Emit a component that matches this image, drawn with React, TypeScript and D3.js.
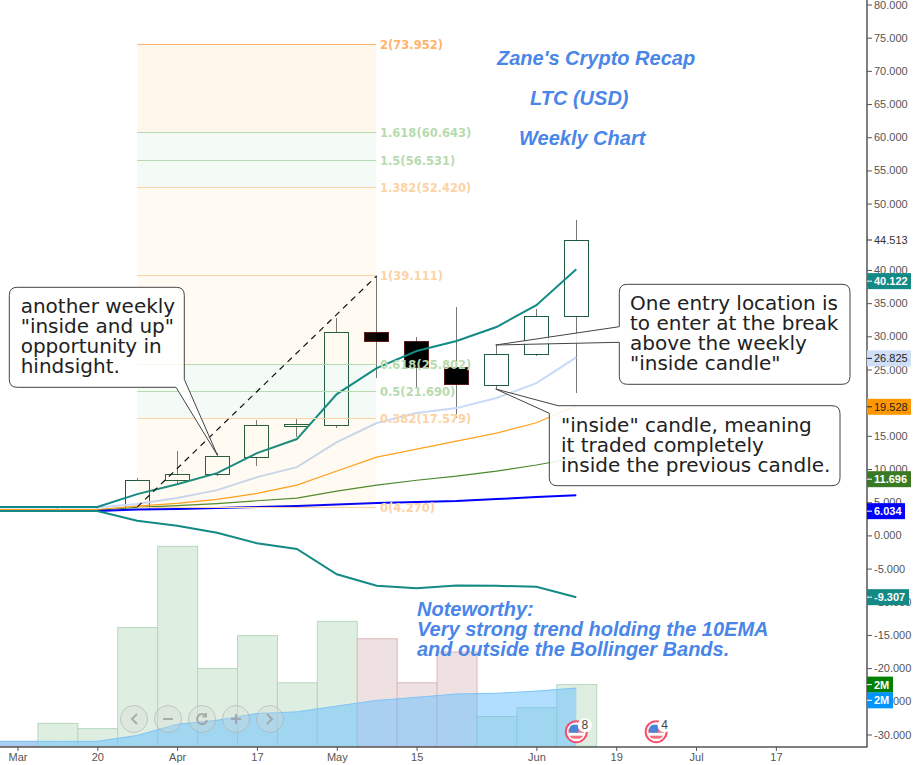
import React, { useEffect, useRef } from 'react';
import * as d3 from 'd3';

// Weekly candles, the index is the week counted from the "Mar" tick
const candleWeeks = [0, 1, 2, 3, 4, 5, 6, 7, 8, 9, 10, 11, 12, 13, 14];
const opens = [3.8, 3.85, 3.9, 3.97, 8.28, 9.18, 11.86, 16.5, 16.69, 30.6, 29.25, 25.4, 22.6, 27.3, 33.0];
const highs = [4.0, 4.4, 4.1, 8.7, 12.7, 12.45, 17.4, 17.55, 32.8, 39.11, 29.9, 34.35, 28.65, 34.1, 47.5];
const lows = [3.7, 3.7, 3.8, 3.9, 7.6, 8.95, 10.5, 14.8, 16.2, 23.75, 22.25, 17.65, 22.05, 27.05, 21.5];
const closes = [3.85, 3.9, 3.97, 8.35, 9.2, 11.92, 16.58, 16.75, 30.6, 29.25, 25.4, 22.75, 27.3, 33.0, 44.47];

// Moving averages and the lower band
const lineWeeks = [-1, 0, 1, 2, 3, 4, 5, 6, 7, 8, 9, 10, 11, 12, 13, 14];
const ema10 = [4.27, 4.27, 4.27, 4.27, 6.22, 7.72, 9.38, 12.4, 14.52, 21.3, 25.2, 27.78, 29.3, 31.4, 34.7, 40.122];
const ema20 = [4.2, 4.2, 4.2, 4.2, 4.72, 5.62, 6.82, 8.78, 10.28, 14.05, 16.93, 18.43, 19.18, 20.7, 22.95, 26.825];
const ema50 = [3.9, 3.9, 3.9, 3.9, 4.42, 4.82, 5.42, 6.33, 7.57, 9.7, 11.8, 13.0, 14.2, 15.42, 16.97, 19.528];
const ema100 = [3.8, 3.8, 3.8, 3.8, 4.22, 4.49, 4.79, 5.21, 5.62, 6.67, 7.57, 8.32, 8.93, 9.68, 10.6, 11.696];
const ema200 = [3.67, 3.67, 3.67, 3.67, 3.89, 3.97, 4.12, 4.27, 4.42, 4.64, 4.87, 5.02, 5.17, 5.47, 5.77, 6.034];
const lowerBand = [3.67, 3.67, 3.67, 3.67, 2.21, 1.46, 0.41, -1.19, -2.04, -5.85, -7.6, -7.95, -7.56, -7.6, -7.75, -9.307];

// Volume in millions
const volumeWeeks = [0, 1, 2, 3, 4, 5, 6, 7, 8, 9, 10, 11, 12, 13, 14];
const volumes = [0.16, 0.74, 0.57, 3.83, 6.45, 2.51, 3.57, 2.05, 4.03, 3.47, 2.05, 3.04, 0.96, 1.25, 1.99];
const volumeUp = [false, true, true, true, true, true, true, true, true, false, false, false, true, true, true];
const volumeMa = [0.16, 0.16, 0.16, 0.16, 0.35, 0.71, 0.84, 1.06, 1.11, 1.3, 1.48, 1.58, 1.69, 1.71, 1.78, 1.88];

// Fibonacci extension
const fibRatios = ['0', '0.382', '0.5', '0.618', '1', '1.382', '1.5', '1.618', '2'];
const fibPrices = [4.27, 17.579, 21.69, 25.802, 39.111, 52.42, 56.531, 60.643, 73.952];

// Axis ticks
const priceTicks = [80, 75, 70, 65, 60, 55, 50, 45, 40, 35, 30, 25, 20, 15, 10, 5, 0, -5, -10, -15, -20, -25, -30];
const timeTickWeeks = [0, 2, 4, 6, 8, 10, 13, 15, 17, 19];
const timeTickLabels = ['Mar', '20', 'Apr', '17', 'May', '15', 'Jun', '19', 'Jul', '17'];

const WIDTH = 914;
const HEIGHT = 765;
const AXIS_X = 867;
const AXIS_Y = 747;
const CANDLE_W = 24;

const BLUE_TEXT = '#4a86e8';
const ORANGE_FILL = '#ff9800';
const GREEN_FILL = '#4caf50';

const x = d3.scaleLinear().domain([2, 14]).range([97.3, 576.3]);
const y = d3.scaleLinear().domain([0, 80]).range([535.4, 4.5]);
const vol = d3.scaleLinear().domain([0, 1]).range([746.3, 715.3]);

const step = x(1) - x(0);
const crisp = (v: number) => Math.round(v) + 0.5;
const crispDown = (v: number) => Math.floor(v) + 0.5;

const linePath = (vals: number[]) =>
  d3.line<number>().x((_, i) => x(lineWeeks[i])).y(d => y(d))(vals) || '';

const maStyles = [
  { vals: ema100, color: '#4a8a2e', w: 1.1 },
  { vals: ema50, color: '#ffa01e', w: 1.2 },
  { vals: ema20, color: '#c9d9f7', w: 2 },
  { vals: ema200, color: '#0000ff', w: 2 },
  { vals: ema10, color: '#138a85', w: 2 },
  { vals: lowerBand, color: '#138a85', w: 2 },
];

// value label on the price axis: nudge is the collision shift the chart applied
const priceTags = [
  { text: '40.122', value: 40.122, nudge: 12, bg: '#138a85', fg: '#fff', w: 44, bold: true },
  { text: '26.825', value: 26.825, nudge: 1, bg: '#cfdff8', fg: '#222', w: 44, bold: false },
  { text: '19.528', value: 19.528, nudge: 1, bg: '#ff9800', fg: '#222', w: 44, bold: false },
  { text: '11.696', value: 11.696, nudge: 21.4, bg: '#3a7a22', fg: '#fff', w: 44, bold: true },
  { text: '6.034', value: 6.034, nudge: 15.8, bg: '#0000ff', fg: '#fff', w: 38, bold: true },
  { text: '-9.307', value: -9.307, nudge: 0, bg: '#138a85', fg: '#fff', w: 42, bold: true },
];

const callouts = [
  {
    box: [9.3, 287.3, 184.3, 387.3],
    tail: [[176, 387.3], [217.3, 455], [184.3, 379.3]],
    side: 'bottom-right',
    textX: 20.7,
    baseline: 313,
    lines: ['another weekly', '"inside and up"', 'opportunity in', 'hindsight.'],
  },
  {
    box: [619.3, 284.3, 850, 384.3],
    tail: [[619.3, 342.3], [495.7, 345], [619.3, 326.7]],
    side: 'left',
    textX: 630,
    baseline: 310,
    lines: ['One entry location is', 'to enter at the break', 'above the weekly', '"inside candle"'],
  },
  {
    box: [549.3, 405.7, 840, 485.7],
    tail: [[549.3, 413.3], [495.7, 389], [558, 405.7]],
    side: 'top-left',
    textX: 561,
    baseline: 431.7,
    lines: ['"inside" candle, meaning', 'it traded completely', 'inside the previous candle.'],
  },
];

// Rounded box with the pointer spliced into the outline
function calloutPath(c: typeof callouts[number]) {
  const [x0, y0, x1, y1] = c.box;
  const r = 8;
  const [a, b, e] = c.tail;
  const tail = `L${a[0]},${a[1]}L${b[0]},${b[1]}L${e[0]},${e[1]}`;
  let d = `M${x0 + r},${y0}`;
  if (c.side === 'top-left') d = `M${e[0]},${e[1]}`;
  d += `L${x1 - r},${y0}Q${x1},${y0} ${x1},${y0 + r}`;
  if (c.side === 'bottom-right') {
    d += `L${e[0]},${e[1]}L${b[0]},${b[1]}L${a[0]},${a[1]}`;
  } else {
    d += `L${x1},${y1 - r}Q${x1},${y1} ${x1 - r},${y1}`;
  }
  d += `L${x0 + r},${y1}Q${x0},${y1} ${x0},${y1 - r}`;
  if (c.side === 'left') d += tail;
  if (c.side === 'top-left') {
    d += `L${a[0]},${a[1]}L${b[0]},${b[1]}Z`;
    return d;
  }
  d += `L${x0},${y0 + r}Q${x0},${y0} ${x0 + r},${y0}Z`;
  return d;
}

const controlXs = [134, 168, 202, 236, 270];
const controlGlyphs = ['M3,-5L-2,0L3,5', 'M-5,0L5,0', 'M4,-3A5,5 0 1 0 5,1M4,-6L4,-2.5L0.5,-2.5', 'M-5,0L5,0M0,-5L0,5', 'M-3,-5L2,0L-3,5'];

function EventFlag({ week, count }: { week: number; count: string }) {
  const cx = x(week);
  const cy = 731.7;
  return (
    <g transform={`translate(${cx},${cy})`}>
      <circle r={10.5} fill="#fff" stroke="#f4506e" strokeWidth={2} />
      <clipPath id={`flag${week}`}>
        <circle r={8} />
      </clipPath>
      <g clipPath={`url(#flag${week})`}>
        <rect x={-9} y={-3} width={18} height={4} fill="#f4707f" />
        <rect x={-9} y={4} width={18} height={3} fill="#f4707f" />
        <rect x={-7} y={-7} width={9} height={8} fill="#4a86d8" />
      </g>
      <circle cx={8.5} cy={-6.5} r={7} fill="#fff" />
      <text x={8.5} y={-2.5} textAnchor="middle" fontSize={12} fontFamily="'Liberation Sans', Arial" fill="#444">{count}</text>
    </g>
  );
}

export default function App() {
  const priceAxisRef = useRef<SVGGElement>(null);
  const timeAxisRef = useRef<SVGGElement>(null);

  useEffect(() => {
    const priceAxis = d3.axisRight(y)
      .tickValues(priceTicks)
      .tickFormat(d => (d as number).toFixed(3))
      .tickSize(5)
      .tickPadding(2);
    const pa = d3.select(priceAxisRef.current as SVGGElement).call(priceAxis as any);
    pa.select('.domain').remove();
    pa.selectAll('text').attr('fill', '#555').attr('font-size', 11).attr('font-family', "'Liberation Sans', Arial");
    pa.selectAll('line').attr('stroke', '#555');

    const timeAxis = d3.axisBottom(x)
      .tickValues(timeTickWeeks)
      .tickFormat((_, i) => timeTickLabels[i])
      .tickSize(4)
      .tickPadding(2);
    const ta = d3.select(timeAxisRef.current as SVGGElement).call(timeAxis as any);
    ta.select('.domain').remove();
    ta.selectAll('text').attr('fill', '#555').attr('font-size', 11).attr('font-family', "'Liberation Sans', Arial");
    ta.selectAll('line').attr('stroke', '#555');
  }, []);

  const volumeArea = d3.area<number>()
    .x((_, i) => x(lineWeeks[i]))
    .y0(vol(0))
    .y1(d => vol(d))(volumeMa) || '';
  const volumeLine = d3.line<number>()
    .x((_, i) => x(lineWeeks[i]))
    .y(d => vol(d))(volumeMa) || '';

  const fibLeft = x(3);
  const fibRight = x(9) - 0.5;

  return (
    <svg width={WIDTH} height={HEIGHT} style={{ position: 'absolute', left: 0, top: 0, display: 'block' }}>
      <defs>
        <clipPath id="plot">
          <rect x={0} y={0} width={AXIS_X} height={AXIS_Y} />
        </clipPath>
      </defs>
      <rect width={WIDTH} height={HEIGHT} fill="#fff" />

      <g clipPath="url(#plot)">
        {/* volume */}
        {volumeWeeks.map((w, i) => (
          <rect
            key={w}
            x={x(w) - step / 2 + 0.5}
            y={vol(volumes[i])}
            width={step}
            height={vol(0) - vol(volumes[i])}
            fill={volumeUp[i] ? '#deeee0' : '#efe1e2'}
            stroke={volumeUp[i] ? '#b5d8bd' : '#dcb8ba'}
            strokeWidth={1}
          />
        ))}
        <path d={volumeArea} fill="#64beff" fillOpacity={0.5} />
        <path d={volumeLine} fill="none" stroke="#7cc4f8" strokeWidth={1} />

        {/* chart zoom buttons */}
        {controlXs.map((cx, i) => (
          <g key={cx} transform={`translate(${cx},719)`}>
            <circle r={13.5} fill="#d8d8d8" fillOpacity={0.3} stroke="#aaa" strokeOpacity={0.55} strokeWidth={1} />
            <path d={controlGlyphs[i]} fill="none" stroke="#999" strokeOpacity={0.75} strokeWidth={2} />
          </g>
        ))}

        {/* candles */}
        {candleWeeks.map((w, i) => {
          const up = closes[i] >= opens[i];
          const cx = crisp(x(w) - 0.5);
          const top = crisp(y(Math.max(opens[i], closes[i])));
          const bottom = crisp(y(Math.min(opens[i], closes[i])));
          return (
            <g key={w} shapeRendering="crispEdges">
              <line x1={cx} x2={cx} y1={y(highs[i])} y2={y(lows[i])} stroke="#777" />
              <rect
                x={cx - CANDLE_W / 2}
                y={top}
                width={CANDLE_W}
                height={Math.max(bottom - top, 1)}
                fill={up ? '#fff' : '#000'}
                stroke={up ? '#1f5c3f' : '#5a1a1a'}
              />
            </g>
          );
        })}

        {/* moving averages */}
        {maStyles.map((s, i) => (
          <path key={i} d={linePath(s.vals)} fill="none" stroke={s.color} strokeWidth={s.w} />
        ))}

        {/* fibonacci bands sit over the candles */}
        {fibPrices.slice(1).map((p, i) => {
          const green = i === 1 || i === 2 || i === 5 || i === 6;
          const top = i === 7;
          return (
            <rect
              key={p}
              x={fibLeft}
              y={y(p)}
              width={fibRight - fibLeft}
              height={y(fibPrices[i]) - y(p)}
              fill={green ? GREEN_FILL : ORANGE_FILL}
              fillOpacity={top ? 0.08 : green ? 0.06 : 0.05}
            />
          );
        })}
        {fibPrices.map((p, i) => {
          const green = fibRatios[i] === '0.5' || fibRatios[i] === '0.618' || fibRatios[i] === '1.5' || fibRatios[i] === '1.618';
          const color = fibRatios[i] === '2' ? '#ffb46a' : green ? '#b7dbb0' : '#fcd3a6';
          return (
            <g key={p}>
              <line x1={fibLeft} x2={fibRight} y1={crispDown(y(p))} y2={crispDown(y(p))} stroke={color} strokeWidth={1} />
              <text x={380} y={crispDown(y(p)) + 4} fill={color} fontSize={11.5} fontWeight="bold" fontFamily="'DejaVu Sans', Verdana">
                {`${fibRatios[i]}(${p.toFixed(3)})`}
              </text>
            </g>
          );
        })}
        <line
          x1={x(3)}
          y1={y(fibPrices[0])}
          x2={x(9)}
          y2={y(fibPrices[4])}
          stroke="#111"
          strokeWidth={1.2}
          strokeDasharray="6 5"
        />

        <EventFlag week={14} count="8" />
        <EventFlag week={16} count="4" />
      </g>

      {/* axes */}
      <line x1={0} x2={AXIS_X + 0.5} y1={AXIS_Y} y2={AXIS_Y} stroke="#555" strokeWidth={1.5} />
      <line x1={AXIS_X} x2={AXIS_X} y1={0} y2={AXIS_Y} stroke="#555" strokeWidth={1.5} />
      <g ref={priceAxisRef} transform={`translate(${AXIS_X},0)`} />
      <g ref={timeAxisRef} transform={`translate(0,${AXIS_Y})`} />

      {/* high marker and price tags */}
      <rect x={AXIS_X + 1} y={y(44.513) - 8} width={44} height={16} fill="#fff" />
      <line x1={AXIS_X} x2={AXIS_X + 5} y1={y(44.513)} y2={y(44.513)} stroke="#333" />
      <text x={AXIS_X + 7} y={y(44.513) + 4} fontSize={11} fontFamily="'Liberation Sans', Arial" fill="#333">44.513</text>
      {priceTags.map(t => {
        const cy = y(t.value) + t.nudge;
        return (
          <g key={t.text}>
            <rect x={AXIS_X} y={cy - 8} width={t.w} height={16} fill={t.bg} />
            <line x1={AXIS_X} x2={AXIS_X + 5} y1={cy} y2={cy} stroke={t.fg} />
            <text x={AXIS_X + 7} y={cy + 4} fontSize={11} fontWeight={t.bold ? 'bold' : 'normal'} fontFamily="'Liberation Sans', Arial" fill={t.fg}>{t.text}</text>
          </g>
        );
      })}
      {[
        { value: 1.99, nudge: 0, bg: '#008000' },
        { value: 1.88, nudge: 12.3, bg: '#0094ff' },
      ].map(t => {
        const cy = vol(t.value) + t.nudge;
        return (
          <g key={t.bg}>
            <rect x={AXIS_X} y={cy - 8} width={26} height={16} fill={t.bg} />
            <line x1={AXIS_X} x2={AXIS_X + 5} y1={cy} y2={cy} stroke="#fff" />
            <text x={AXIS_X + 7} y={cy + 4} fontSize={11} fontWeight="bold" fontFamily="'Liberation Sans', Arial" fill="#fff">2M</text>
          </g>
        );
      })}

      {/* callouts */}
      {callouts.map(c => (
        <g key={c.baseline}>
          <path d={calloutPath(c)} fill="#fff" fillOpacity={0.85} stroke="#444" strokeWidth={1} />
          <text fontSize={20} fontFamily="'DejaVu Sans', Verdana" fill="#222">
            {c.lines.map((l, i) => (
              <tspan key={l} x={c.textX} y={c.baseline + i * 20}>{l}</tspan>
            ))}
          </text>
        </g>
      ))}

      {/* titles */}
      <g fontFamily="'Liberation Sans', Arial" fontWeight="bold" fontStyle="italic" fontSize={20} fill={BLUE_TEXT}>
        <text x={497} y={65}>Zane's Crypto Recap</text>
        <text x={530} y={105}>LTC (USD)</text>
        <text x={519} y={145}>Weekly Chart</text>
        <text x={417} y={616}>Noteworthy:</text>
        <text x={417} y={636}>Very strong trend holding the 10EMA</text>
        <text x={417} y={656}>and outside the Bollinger Bands.</text>
      </g>
    </svg>
  );
}
